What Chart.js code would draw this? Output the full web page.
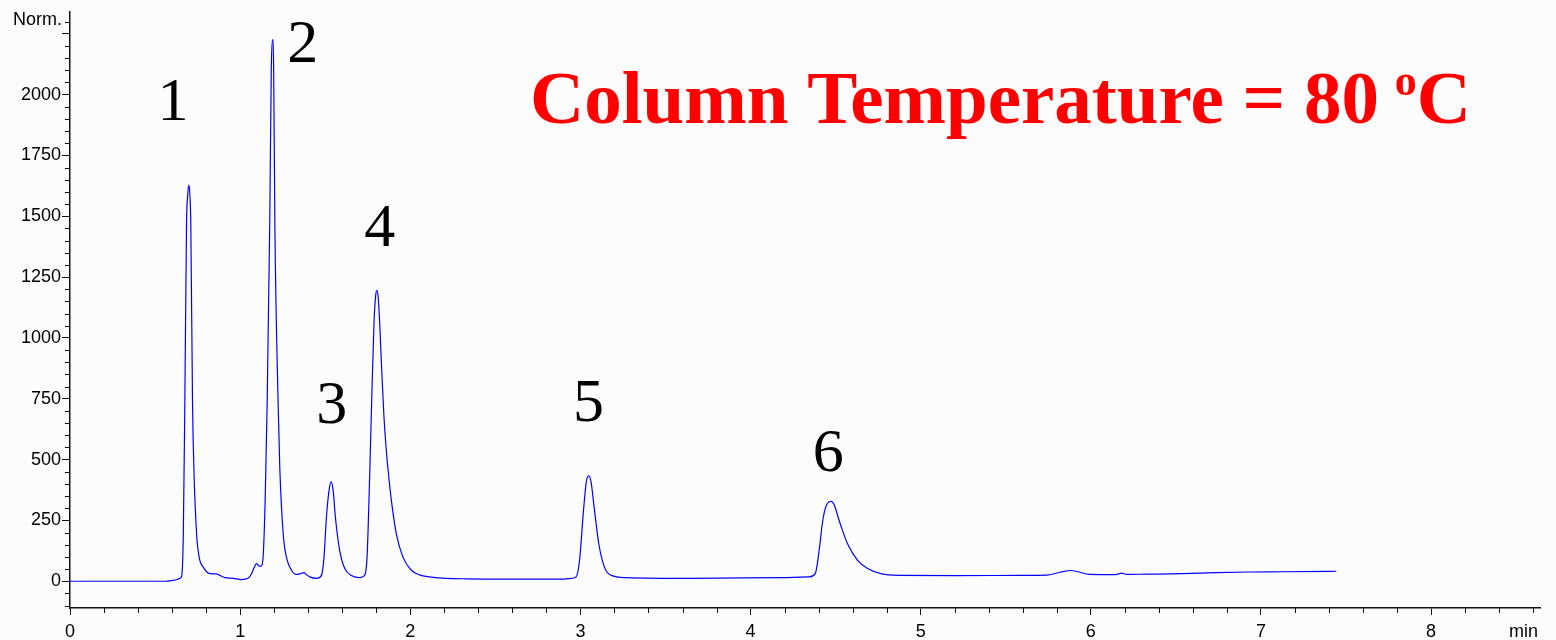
<!DOCTYPE html>
<html>
<head>
<meta charset="utf-8">
<title>Chromatogram</title>
<script src="https://cdn.jsdelivr.net/npm/chart.js@4.4.1/dist/chart.umd.min.js"></script>
<style>
    html, body { margin: 0; padding: 0; background: #fcfcfc; }
    #chromatogram { display: block; }
</style>
</head>
<body>
<canvas id="chromatogram" width="1556" height="640"></canvas>
<script>
// retention time (min) and detector signal (Norm.)
const timeMin = [
    0.00, 0.30, 0.56, 0.60, 0.63, 0.645, 0.656, 0.666, 0.675, 0.685, 0.692, 0.699, 0.705, 0.710,
    0.720, 0.728, 0.744, 0.759, 0.783, 0.822, 0.860, 0.875, 0.910, 0.960, 1.008, 1.047,
    1.067, 1.082, 1.096, 1.112, 1.125, 1.135, 1.147, 1.159, 1.174, 1.183, 1.190, 1.197,
    1.204, 1.223, 1.233, 1.253, 1.272, 1.302, 1.331, 1.355, 1.374, 1.390, 1.409, 1.449,
    1.478, 1.493, 1.507, 1.522, 1.535, 1.547, 1.560, 1.585, 1.615, 1.654, 1.703, 1.732,
    1.746, 1.760, 1.773, 1.787, 1.796, 1.803, 1.811, 1.820, 1.830, 1.845, 1.860, 1.875,
    1.889, 1.918, 1.957, 2.006, 2.055, 2.134, 2.330, 2.600, 2.900, 2.950, 2.975, 2.995,
    3.018, 3.035, 3.049, 3.062, 3.083, 3.108, 3.141, 3.181, 3.269, 3.660, 4.188, 4.345,
    4.380, 4.408, 4.420, 4.433, 4.446, 4.459, 4.472, 4.485, 4.498, 4.515, 4.531, 4.570,
    4.629, 4.688, 4.766, 4.874, 5.200, 5.600, 5.740, 5.820, 5.882, 5.930, 5.990, 6.146,
    6.181, 6.210, 6.322, 6.537, 6.733, 6.929, 7.125, 7.442
]
const signal = [
    0, 0, 0, 3, 7, 12, 20, 190, 740, 1470, 1590, 1628, 1580, 1470,
    740, 467, 195, 99, 58, 31, 30, 26, 15, 12, 7, 12,
    31, 55, 72, 62, 63, 99, 331, 739, 1473, 2100, 2226, 2100,
    1473, 739, 467, 195, 99, 45, 28, 31, 35, 27, 18, 12,
    24, 99, 262, 370, 409, 370, 262, 127, 52, 24, 15, 24,
    99, 400, 739, 1065, 1170, 1195, 1170, 1065, 900, 680, 530, 420,
    331, 195, 99, 45, 26, 16, 10, 9, 9, 12, 18, 86,
    290, 410, 433, 410, 290, 154, 58, 24, 15, 12, 15, 18,
    31, 154, 228, 282, 312, 325, 328, 322, 302, 262, 228, 154,
    86, 52, 31, 24, 23, 24, 25, 37, 44, 38, 28, 27,
    33, 28, 29, 31, 35, 38, 39, 41
]

// peak numbers and where they sit (time, signal)
const peakNames = ['1', '2', '3', '4', '5', '6']
const peakLabelTime = [0.605, 1.368, 1.538, 1.820, 3.048, 4.457]
const peakLabelSignal = [1963, 2200, 718, 1445, 727, 518]

// labelled ticks; 2250 carries no number, "Norm." sits above it
const yTicks = [0, 250, 500, 750, 1000, 1250, 1500, 1750, 2000, 2250]
const xTicks = [0, 1, 2, 3, 4, 5, 6, 7, 8]
const yTickMinor = 50
const xTickMinor = 0.2

const sansFont = '"Liberation Sans", Arial, sans-serif'
const serifFont = '"Liberation Serif", "Times New Roman", serif'

// short ticks between the labelled ones
const minorTicks = {
    id: 'minorTicks',
    afterDraw(chart) {
        const ctx = chart.ctx
        const area = chart.chartArea
        const x = chart.scales.x
        const y = chart.scales.y
        ctx.save()
        ctx.strokeStyle = '#111'
        ctx.lineWidth = 1
        ctx.beginPath()
        for (let i = 0; i * xTickMinor <= x.max + 1e-9; i++) {
            if (i % 5 === 0) continue
            const px = Math.round(x.getPixelForValue(i * xTickMinor)) + 0.5
            ctx.moveTo(px, area.bottom)
            ctx.lineTo(px, area.bottom + 5)
        }
        for (let v = -100; v <= y.max; v += yTickMinor) {
            if (v % 250 === 0) continue
            const py = Math.round(y.getPixelForValue(v)) + 0.5
            ctx.moveTo(area.left, py)
            ctx.lineTo(area.left - 5, py)
        }
        ctx.stroke()
        ctx.restore()
    }
}

// axis captions, peak numbers and the heading
const chartText = {
    id: 'chartText',
    beforeDraw(chart) {
        const ctx = chart.ctx
        ctx.save()
        ctx.fillStyle = '#fcfcfc'
        ctx.fillRect(0, 0, chart.width, chart.height)
        ctx.restore()
    },
    afterDraw(chart) {
        const ctx = chart.ctx
        const area = chart.chartArea
        const x = chart.scales.x
        const y = chart.scales.y
        ctx.save()

        ctx.fillStyle = '#000'
        ctx.font = '18px ' + sansFont
        ctx.textAlign = 'right'
        ctx.textBaseline = 'middle'
        ctx.fillText('Norm.', area.left - 8, 20)
        ctx.fillText('min', chart.width - 18, 632)

        ctx.font = '62px ' + serifFont
        ctx.textAlign = 'center'
        peakNames.forEach((name, i) => {
            ctx.fillText(name, x.getPixelForValue(peakLabelTime[i]), y.getPixelForValue(peakLabelSignal[i]))
        })

        // Column Temperature = 80 oC, with a raised "o"
        ctx.fillStyle = '#ff0000'
        ctx.textAlign = 'left'
        ctx.textBaseline = 'alphabetic'
        const head = 'Column Temperature = 80 '
        let left = 530
        ctx.font = 'bold 75px ' + serifFont
        ctx.fillText(head, left, 123)
        left += ctx.measureText(head).width - 3
        ctx.font = 'bold 44px ' + serifFont
        ctx.fillText('o', left, 95)
        left += ctx.measureText('o').width
        ctx.font = 'bold 75px ' + serifFont
        ctx.fillText('C', left, 123)

        ctx.restore()
    }
}

const chromatogram = new Chart(document.querySelector('#chromatogram'), {
    type: 'line',
    data: {
        datasets: [{
            data: timeMin.map((t, i) => ({x: t, y: signal[i]})),
            borderColor: '#0000ff',
            borderWidth: 1.2,
            pointRadius: 0,
            fill: false,
            cubicInterpolationMode: 'monotone'
        }]
    },
    options: {
        responsive: false,
        animation: false,
        devicePixelRatio: 1,
        layout: {
            padding: {top: 8, right: 16, left: 0, bottom: 0}
        },
        plugins: {
            legend: {display: false},
            tooltip: {enabled: false}
        },
        scales: {
            x: {
                type: 'linear',
                min: 0,
                max: 8.64,
                afterFit: scale => { scale.height = 32 },
                afterBuildTicks: scale => { scale.ticks = xTicks.map(v => ({value: v})) },
                border: {color: '#111', width: 1.5},
                grid: {drawOnChartArea: false, tickLength: 7, color: '#111'},
                ticks: {
                    maxRotation: 0,
                    autoSkip: false,
                    padding: 6,
                    color: '#000',
                    font: {family: sansFont, size: 18}
                }
            },
            y: {
                min: -110,
                max: 2340,
                afterFit: scale => { scale.width = 70 },
                afterBuildTicks: scale => { scale.ticks = yTicks.map(v => ({value: v})) },
                border: {color: '#111', width: 1.5},
                grid: {drawOnChartArea: false, tickLength: 8, color: '#111'},
                ticks: {
                    autoSkip: false,
                    padding: 1,
                    color: '#000',
                    font: {family: sansFont, size: 18},
                    callback: value => value === 2250 ? '' : value
                }
            }
        }
    },
    plugins: [minorTicks, chartText]
})
</script>
</body>
</html>
